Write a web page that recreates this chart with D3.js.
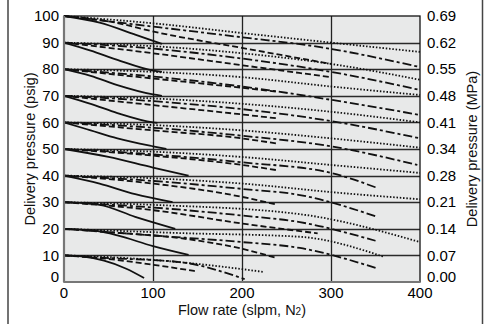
<!DOCTYPE html>
<html>
<head>
<meta charset="utf-8">
<script src="https://cdn.jsdelivr.net/npm/d3@7"></script>
<style>
  body { margin: 0; background: #fff; }
  svg { display: block; font-family: "Liberation Sans", Arial, sans-serif; }
</style>
</head>
<body>
<div id="chart"></div>
<script>
// set pressures (psig) and matching MPa tick labels
const setPressures = [0, 10, 20, 30, 40, 50, 60, 70, 80, 90, 100];
const mpaLabels = ['0.00', '0.07', '0.14', '0.21', '0.28', '0.34', '0.41', '0.48', '0.55', '0.62', '0.69'];
const flowTicks = [0, 100, 200, 300, 400];

// curves: [flow slpm, delivery psig]
const solidCurves = [
  [[0, 10], [20, 9.6], [45, 8], [70, 5], [90, 1.5]],
  [[0, 20], [40, 19], [60, 17.5], [100, 13.5], [140, 10.2]],
  [[0, 30], [40, 29], [80, 24.5], [125, 20]],
  [[0, 40], [40, 37], [80, 33], [122, 30]],
  [[0, 50], [50, 47], [100, 43], [140, 40]],
  [[0, 60], [30, 57], [60, 54], [100, 51], [115, 50]],
  [[0, 70], [30, 67], [60, 63.5], [100, 60], [105, 59.8]],
  [[0, 80], [30, 77.5], [60, 74], [100, 70.5], [110, 70]],
  [[0, 90], [30, 87], [60, 83.5], [100, 79.5], [110, 79]],
  [[0, 100], [40, 97.5], [80, 93], [110, 89.5]]
];
const dashCurves = [
  [[0, 10], [40, 9], [100, 6.5], [147, 4.1]],
  [[0, 20], [60, 18.5], [130, 16.5], [200, 12.5], [239, 9]],
  [[0, 30], [100, 27], [200, 22], [285, 18.3]],
  [[0, 40], [100, 37], [200, 32], [240, 29]],
  [[0, 50], [100, 47.5], [200, 44], [240, 42]],
  [[0, 60], [100, 57], [200, 54], [240, 52]],
  [[0, 70], [100, 66.5], [200, 63], [240, 61.5]],
  [[0, 80], [100, 76.5], [200, 73], [240, 71.5]],
  [[0, 90], [100, 86], [200, 81.5], [300, 77]],
  [[0, 100], [50, 98], [108, 93.6], [200, 88], [300, 82]]
];
const dashDotCurves = [
  [[0, 10], [50, 9], [130, 7.5], [203, 1.1]],
  [[0, 20], [100, 17.5], [200, 15], [265, 12.8], [352, 5.1]],
  [[0, 30], [100, 28], [200, 25], [265, 22.5], [350, 15.5]],
  [[0, 40], [100, 38], [200, 35], [265, 32.7], [352, 24.5]],
  [[0, 50], [100, 48], [200, 45], [300, 41], [350, 35.6]],
  [[0, 60], [100, 58], [200, 55], [300, 51], [397, 44]],
  [[0, 70], [100, 68], [200, 65], [300, 60.5], [400, 54]],
  [[0, 80], [108, 77], [200, 73.5], [300, 68.5], [400, 62.8]],
  [[0, 90], [108, 87.5], [200, 84], [300, 79], [400, 72.2]],
  [[0, 100], [108, 95.7], [200, 92], [288, 88.3], [400, 80.8]]
];
const dotCurves = [
  [[0, 10], [60, 9.2], [150, 6.8], [224, 3.8]],
  [[0, 20], [130, 18.4], [265, 17], [360, 9.4]],
  [[0, 30], [100, 29], [265, 25.5], [400, 15]],
  [[0, 40], [100, 39], [200, 37], [310, 33.5], [400, 31.1]],
  [[0, 50], [100, 49], [200, 47], [300, 44], [400, 41]],
  [[0, 60], [100, 59], [200, 57], [300, 54], [400, 50.5]],
  [[0, 70], [100, 69], [200, 67], [300, 64], [400, 60]],
  [[0, 80], [100, 79], [200, 77], [300, 73.5], [400, 70.3]],
  [[0, 90], [108, 88.5], [200, 86], [300, 82], [400, 76]],
  [[0, 100], [108, 97], [200, 93.6], [300, 90], [400, 86.5]]
];

const W = 493, H = 324;
const margin = { top: 16, right: 73, bottom: 42, left: 64 };
const iw = W - margin.left - margin.right;
const ih = H - margin.top - margin.bottom;

const svg = d3.select('#chart').append('svg').attr('width', W).attr('height', H);

// outer frame sides
svg.append('line').attr('x1', 8).attr('x2', 8).attr('y1', 0).attr('y2', H)
  .attr('stroke', '#444').attr('stroke-width', 1.5);
svg.append('line').attr('x1', 482.5).attr('x2', 482.5).attr('y1', 0).attr('y2', H)
  .attr('stroke', '#444').attr('stroke-width', 1.5);

const g = svg.append('g').attr('transform', `translate(${margin.left},${margin.top})`);

const x = d3.scaleLinear().domain([0, 400]).range([0, iw]);
const y = d3.scaleLinear().domain([0, 100]).range([ih, 0]);

g.append('rect').attr('width', iw).attr('height', ih).attr('fill', '#e8e9e9');

// grid
g.selectAll('.hgrid').data(setPressures.slice(1, -1)).join('line')
  .attr('x1', 0).attr('x2', iw)
  .attr('y1', d => Math.round(y(d)) + 0.5).attr('y2', d => Math.round(y(d)) + 0.5)
  .attr('stroke', '#2a2a2a').attr('stroke-width', 1.3);
g.selectAll('.vgrid').data(flowTicks.slice(1, -1)).join('line')
  .attr('y1', 0).attr('y2', ih)
  .attr('x1', d => Math.round(x(d)) + 0.5).attr('x2', d => Math.round(x(d)) + 0.5)
  .attr('stroke', '#222').attr('stroke-width', 1.3);

// curves
const line = d3.line().x(d => x(d[0])).y(d => y(d[1])).curve(d3.curveMonotoneX);
const styles = [
  { data: dotCurves, dash: '1.5,1.8', width: 1.8 },
  { data: dashDotCurves, dash: '9,3,3,3', width: 1.8 },
  { data: dashCurves, dash: '6,3', width: 1.8 },
  { data: solidCurves, dash: null, width: 1.8 }
];
styles.forEach(s => {
  g.append('g').selectAll('path').data(s.data).join('path')
    .attr('d', line)
    .attr('fill', 'none')
    .attr('stroke', '#111')
    .attr('stroke-width', s.width)
    .attr('stroke-dasharray', s.dash);
});

// frame of plot
g.append('rect').attr('width', iw).attr('height', ih)
  .attr('fill', 'none').attr('stroke', '#111').attr('stroke-width', 1.3);
g.append('line').attr('x1', 0).attr('x2', iw).attr('y1', ih).attr('y2', ih)
  .attr('stroke', '#777').attr('stroke-width', 2.2);
g.append('line').attr('x1', 0).attr('x2', 0).attr('y1', 0).attr('y2', ih)
  .attr('stroke', '#777').attr('stroke-width', 2.2);

// axes labels (the zero labels sit a little higher, clear of the x labels)
const tickFont = 15;
const lift = d => (d === 0 ? -5 : 0);
g.selectAll('.yl').data(setPressures).join('text')
  .attr('x', -5).attr('y', d => y(d) + lift(d)).attr('dy', '0.35em')
  .attr('text-anchor', 'end').attr('font-size', tickFont).attr('fill', '#000')
  .text(d => d);
g.selectAll('.yr').data(setPressures).join('text')
  .attr('x', iw + 7).attr('y', d => y(d) + lift(d)).attr('dy', '0.35em')
  .attr('text-anchor', 'start').attr('font-size', tickFont).attr('fill', '#000')
  .text((d, i) => mpaLabels[i]);
g.selectAll('.xl').data(flowTicks).join('text')
  .attr('x', d => x(d)).attr('y', ih + 15.5)
  .attr('text-anchor', 'middle').attr('font-size', tickFont).attr('fill', '#000')
  .text(d => d);

const xt = svg.append('text').attr('x', margin.left + iw / 2).attr('y', 315)
  .attr('text-anchor', 'middle').attr('font-size', 14.5).attr('fill', '#111');
xt.append('tspan').text('Flow rate (slpm, N');
xt.append('tspan').attr('font-size', 10).text('2');
xt.append('tspan').text(')');

svg.append('text')
  .attr('transform', `translate(35,${margin.top + ih / 2}) rotate(-90)`)
  .attr('text-anchor', 'middle').attr('font-size', 14.5).attr('fill', '#111')
  .text('Delivery pressure (psig)');
svg.append('text')
  .attr('transform', `translate(477,${margin.top + ih / 2}) rotate(-90)`)
  .attr('text-anchor', 'middle').attr('font-size', 14.5).attr('fill', '#111')
  .text('Delivery pressure (MPa)');
</script>
</body>
</html>
